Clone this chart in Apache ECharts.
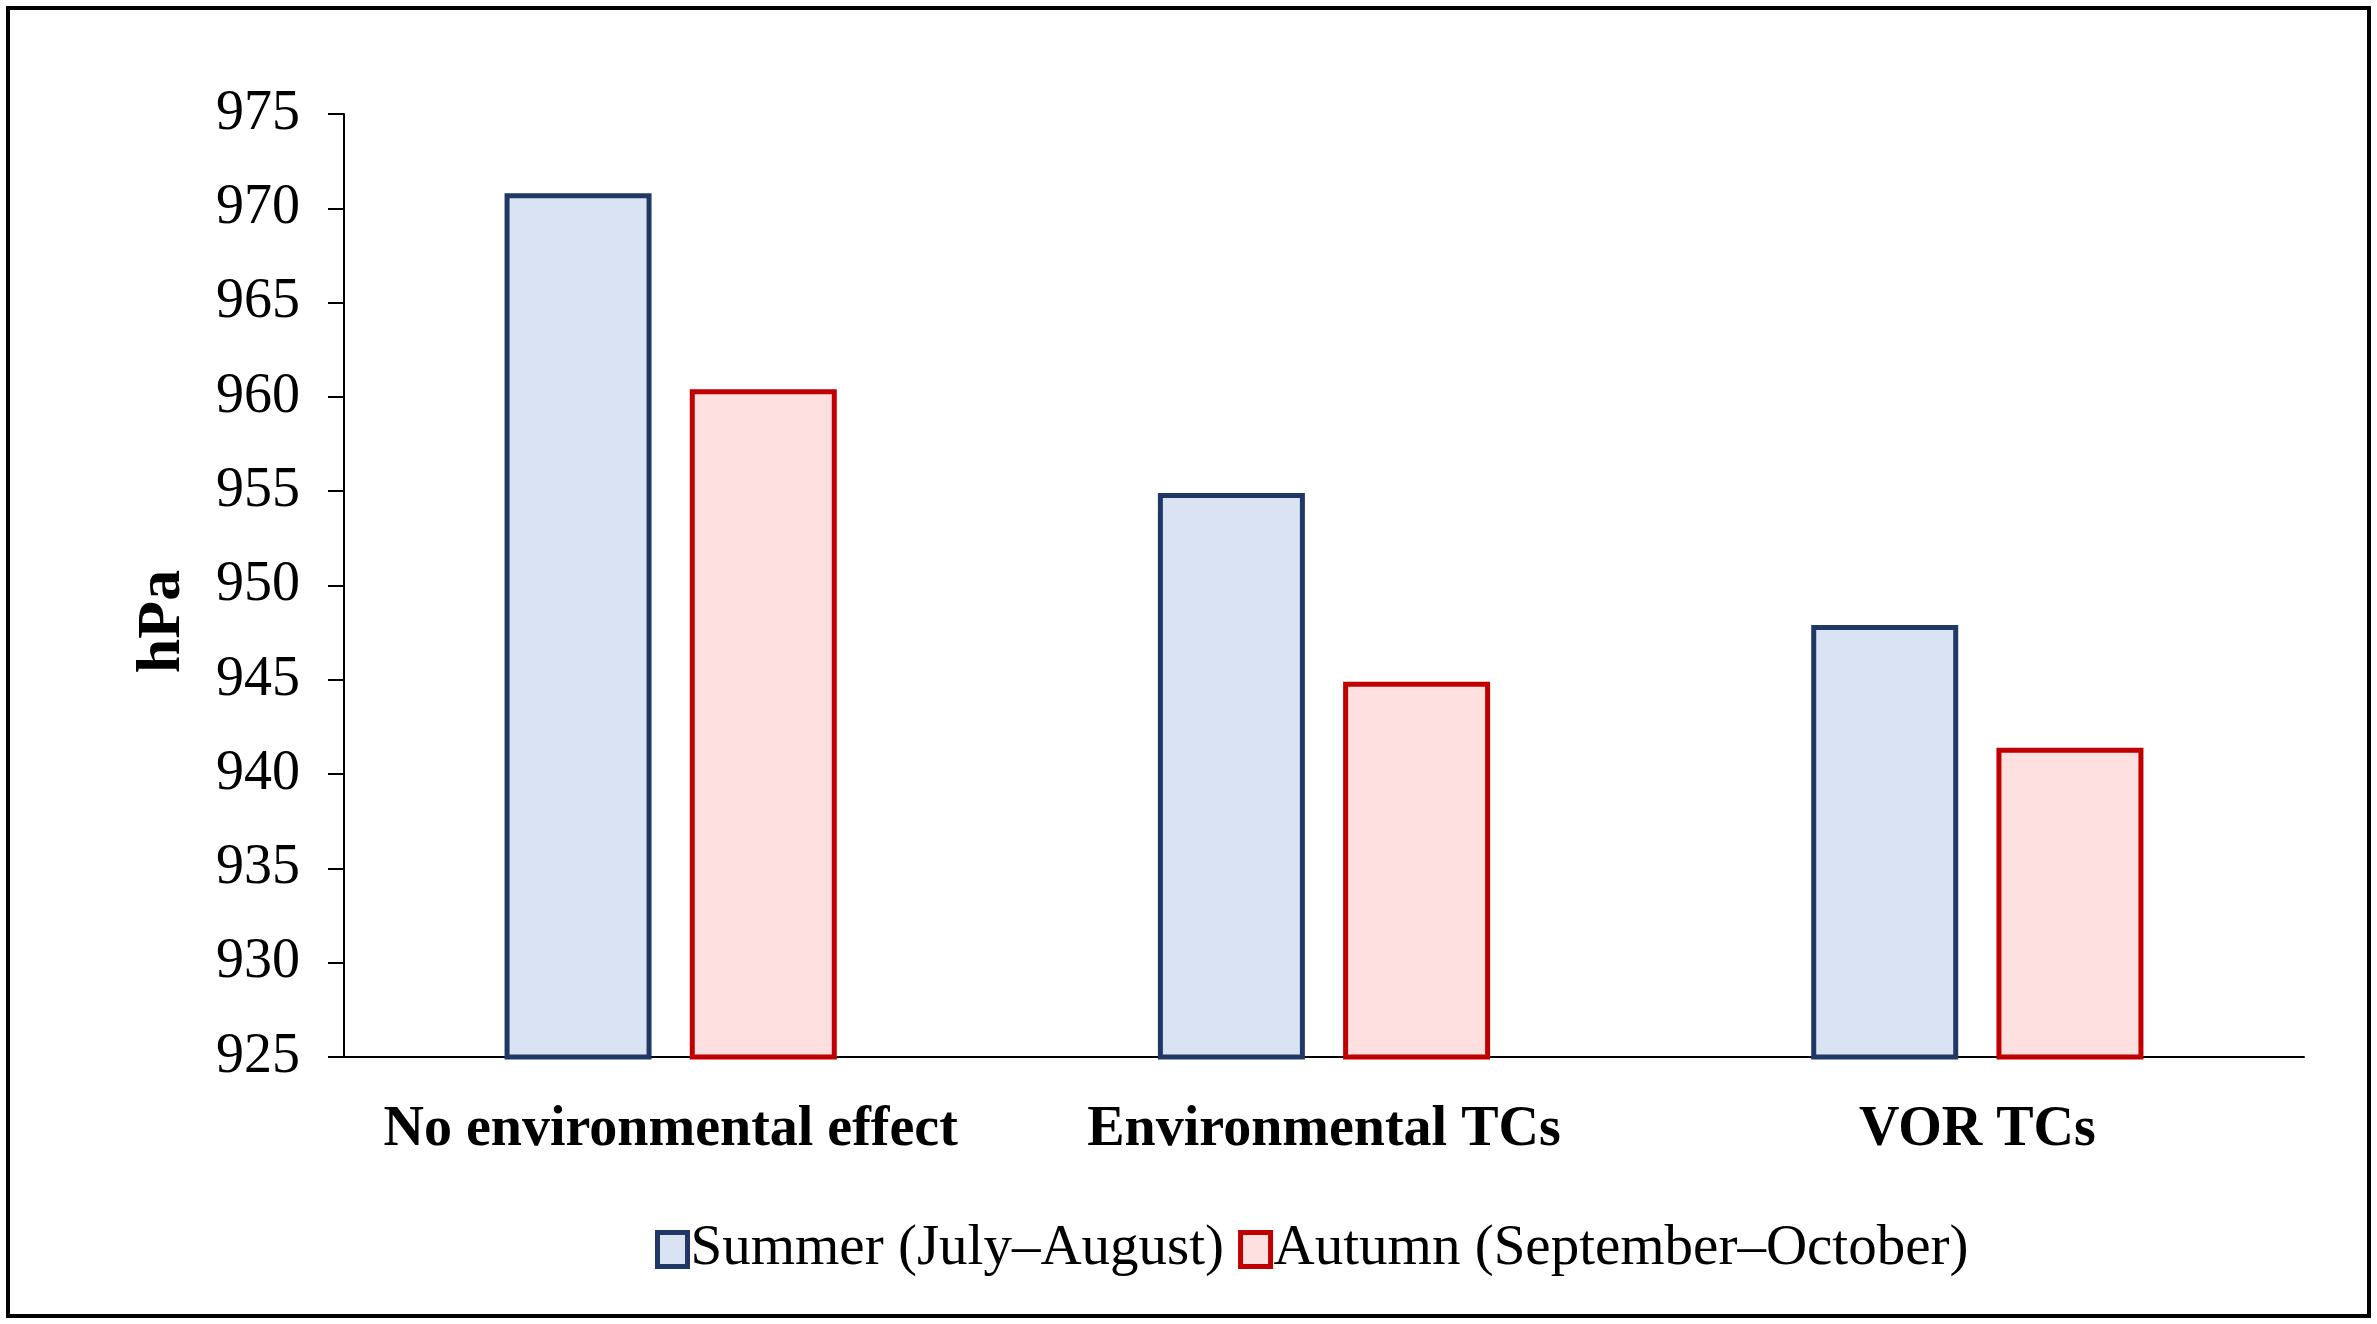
<!DOCTYPE html>
<html>
<head>
<meta charset="utf-8">
<script src="https://cdn.jsdelivr.net/npm/echarts@6/dist/echarts.min.js"></script>
<style>
html,body{margin:0;padding:0;background:#fff;}
#chart{width:2377px;height:1324px;}
</style>
</head>
<body>
<div id="chart"></div>
<script>
const categories = ['No environmental effect', 'Environmental TCs', 'VOR TCs'];
const summerValues = [970.8, 954.9, 947.9];
const autumnValues = [960.4, 944.9, 941.4];
const seriesNames = ['Summer (July\u2013August)', 'Autumn (September\u2013October)'];
const yTicks = [925, 930, 935, 940, 945, 950, 955, 960, 965, 970, 975];

const FONT = '"Liberation Serif", "Times New Roman", serif';
const chart = echarts.init(document.getElementById('chart'));
chart.setOption({
  backgroundColor: '#ffffff',
  animation: false,
  graphic: [{
    type: 'rect',
    shape: {x: 8, y: 8, width: 2361, height: 1308},
    style: {fill: 'none', stroke: '#000', lineWidth: 4},
    silent: true
  }],
  grid: {left: 344, right: 73, top: 114, bottom: 267},
  legend: {
    left: 650,
    top: 1246 - 30,
    itemWidth: 30,
    itemHeight: 34,
    itemGap: 14,
    icon: 'rect',
    itemStyle: {borderWidth: 5},
    textStyle: {fontFamily: FONT, fontSize: 57, color: '#000', padding: [0, 0, 0, -2]},
    data: seriesNames
  },
  xAxis: {
    type: 'category',
    data: categories,
    axisLine: {lineStyle: {color: '#000', width: 2}},
    axisTick: {show: false},
    axisLabel: {interval: 0, fontFamily: FONT, fontSize: 56, fontWeight: 'bold', color: '#000', margin: 46}
  },
  yAxis: {
    type: 'value',
    min: yTicks[0],
    max: yTicks[yTicks.length - 1],
    interval: 5,
    name: 'hPa',
    nameLocation: 'middle',
    nameGap: 150,
    nameTextStyle: {fontFamily: FONT, fontSize: 62, fontWeight: 'bold', color: '#000', padding: [0, 72, 0, 0]},
    splitLine: {show: false},
    axisLine: {show: true, lineStyle: {color: '#000', width: 2}},
    axisTick: {show: true, length: 16, lineStyle: {color: '#000', width: 2}},
    axisLabel: {fontFamily: FONT, fontSize: 56, color: '#000', margin: 44}
  },
  series: [
    {
      name: seriesNames[0],
      type: 'bar',
      data: summerValues,
      barWidth: 147,
      barGap: '26%',
      itemStyle: {color: '#DAE3F3', borderColor: '#203864', borderWidth: 5}
    },
    {
      name: seriesNames[1],
      type: 'bar',
      data: autumnValues,
      barWidth: 147,
      barGap: '26%',
      itemStyle: {color: '#FFE0E1', borderColor: '#C00000', borderWidth: 5}
    }
  ]
});
</script>
</body>
</html>
